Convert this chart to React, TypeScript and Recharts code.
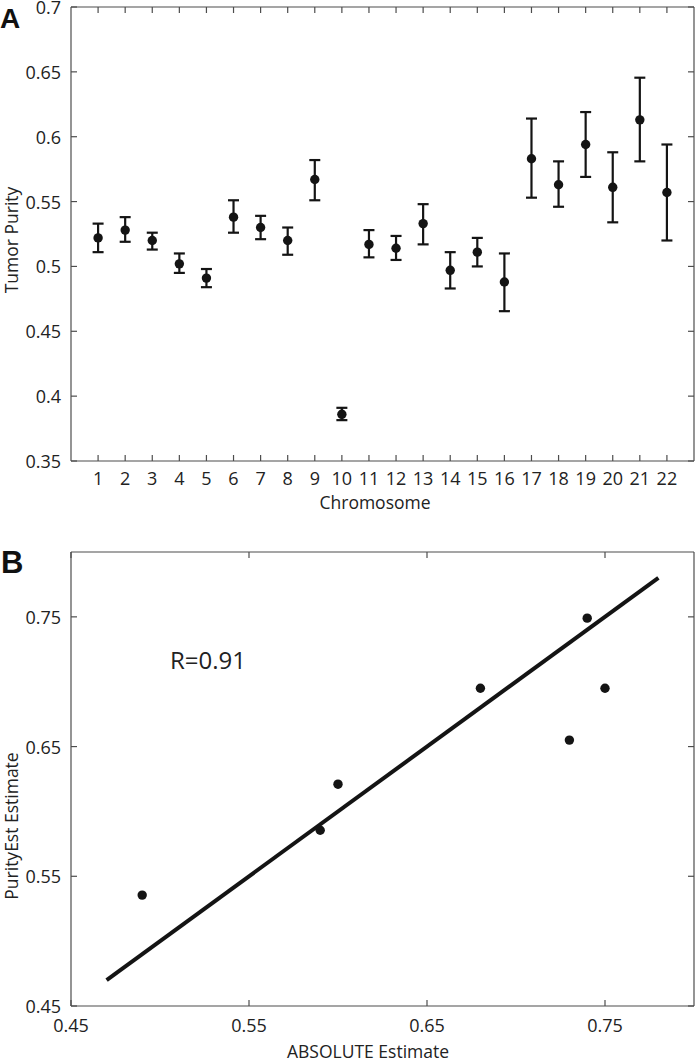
import React from 'react';
import { ScatterChart, Scatter, XAxis, YAxis, ErrorBar, ReferenceDot } from 'recharts';

// Panel A: tumor purity per chromosome (mean with error range)
const chromosomes = [1, 2, 3, 4, 5, 6, 7, 8, 9, 10, 11, 12, 13, 14, 15, 16, 17, 18, 19, 20, 21, 22];
const purityMean = [0.522, 0.528, 0.52, 0.502, 0.491, 0.538, 0.53, 0.52, 0.567, 0.386, 0.517, 0.514, 0.533, 0.497, 0.511, 0.488, 0.583, 0.563, 0.594, 0.561, 0.613, 0.557];
const purityHigh = [0.533, 0.538, 0.526, 0.51, 0.498, 0.551, 0.539, 0.53, 0.582, 0.391, 0.528, 0.5235, 0.548, 0.511, 0.522, 0.51, 0.614, 0.581, 0.619, 0.588, 0.6455, 0.594];
const purityLow = [0.511, 0.519, 0.513, 0.495, 0.484, 0.526, 0.521, 0.509, 0.551, 0.3815, 0.507, 0.505, 0.517, 0.483, 0.5, 0.4655, 0.553, 0.546, 0.569, 0.534, 0.581, 0.52];
const purityTicks = [0.35, 0.4, 0.45, 0.5, 0.55, 0.6, 0.65, 0.7];

// Panel B: PurityEst vs ABSOLUTE
const absoluteEst = [0.49, 0.59, 0.6, 0.68, 0.74, 0.75, 0.73];
const purityEst = [0.5355, 0.5855, 0.621, 0.695, 0.749, 0.695, 0.655];
const fitX = [0.47, 0.78];
const fitY = [0.47, 0.78];
const estTicks = [0.45, 0.55, 0.65, 0.75];
const rText = 'R=0.91';
const rPos = { x: 0.527, y: 0.716 };

const chromData = chromosomes.map((c, i) => ({
  chr: c,
  purity: purityMean[i],
  err: [purityMean[i] - purityLow[i], purityHigh[i] - purityMean[i]],
}));
const estData = absoluteEst.map((a, i) => ({ abs: a, est: purityEst[i] }));
const fitData = fitX.map((x, i) => ({ abs: x, est: fitY[i] }));

const AXIS = '#4d4d4d';
const INK = '#141414';
const TEXT = '#222';
const FONT = '"Open Sans", "Noto Sans", sans-serif';
const TICK = 6;

const labelStyle = { fontFamily: FONT, fontSize: 18, fill: TEXT };

const BottomTick = ({ x, y, payload, gap }: any) => (
  <g>
    <line x1={x} y1={y} x2={x} y2={y - TICK} stroke={AXIS} strokeWidth={1.2} />
    <text x={x} y={y + gap} textAnchor="middle" dominantBaseline="central" {...labelStyle}>
      {payload.value}
    </text>
  </g>
);

const LeftTick = ({ x, y, payload }: any) => (
  <g>
    <line x1={x} y1={y} x2={x + TICK} y2={y} stroke={AXIS} strokeWidth={1.2} />
    <text x={x - 10} y={y} textAnchor="end" dominantBaseline="central" {...labelStyle}>
      {payload.value}
    </text>
  </g>
);

const TopTick = ({ x, y }: any) => (
  <line x1={x} y1={y} x2={x} y2={y + TICK} stroke={AXIS} strokeWidth={1.2} />
);

const RightTick = ({ x, y }: any) => (
  <line x1={x} y1={y} x2={x - TICK} y2={y} stroke={AXIS} strokeWidth={1.2} />
);

const Dot = (p: any) => <circle cx={p.cx} cy={p.cy} r={4.7} fill={INK} />;
const NoDot = () => <g />;

const axisLine = { stroke: AXIS, strokeWidth: 1.2 };

// frame axes (top / right) are mirrored so they take no room
const frameX = {
  xAxisId: 'top',
  orientation: 'top' as const,
  mirror: true,
  type: 'number' as const,
  height: 1,
  tickSize: 0,
  tickMargin: 0,
  axisLine,
  tickLine: false,
  tick: <TopTick />,
  interval: 0,
};
const frameY = {
  yAxisId: 'right',
  orientation: 'right' as const,
  mirror: true,
  type: 'number' as const,
  width: 1,
  tickSize: 0,
  tickMargin: 0,
  axisLine,
  tickLine: false,
  tick: <RightTick />,
  interval: 0,
};

const PanelA = () => (
  <ScatterChart width={696} height={520} margin={{ top: 7, right: 2, bottom: 0, left: 0 }}>
    <XAxis
      dataKey="chr"
      type="number"
      domain={[0, 23]}
      ticks={chromosomes}
      height={59}
      tickSize={0}
      tickMargin={0}
      axisLine={axisLine}
      tickLine={false}
      tick={<BottomTick gap={17} />}
      interval={0}
    />
    <XAxis {...frameX} dataKey="chr" domain={[0, 23]} ticks={chromosomes} />
    <YAxis
      dataKey="purity"
      type="number"
      domain={[0.35, 0.7]}
      ticks={purityTicks}
      width={71}
      tickSize={0}
      tickMargin={0}
      axisLine={axisLine}
      tickLine={false}
      tick={<LeftTick />}
      interval={0}
    />
    <YAxis {...frameY} dataKey="purity" domain={[0.35, 0.7]} ticks={purityTicks} />
    {/* hidden series so the frame axes get a scale */}
    <Scatter data={chromData} xAxisId="top" yAxisId="right" shape={NoDot} isAnimationActive={false} />
    <Scatter data={chromData} fill={INK} shape={Dot} isAnimationActive={false}>
      <ErrorBar dataKey="err" direction="y" width={5.5} stroke={INK} strokeWidth={2.2} isAnimationActive={false} />
    </Scatter>
  </ScatterChart>
);

const PanelB = () => (
  <ScatterChart width={696} height={542} margin={{ top: 32, right: 2, bottom: 0, left: 0 }}>
    <XAxis
      dataKey="abs"
      type="number"
      domain={[0.45, 0.8]}
      ticks={estTicks}
      height={56}
      tickSize={0}
      tickMargin={0}
      axisLine={axisLine}
      tickLine={false}
      tick={<BottomTick gap={19} />}
      interval={0}
    />
    <XAxis {...frameX} dataKey="abs" domain={[0.45, 0.8]} ticks={estTicks} />
    <YAxis
      dataKey="est"
      type="number"
      domain={[0.45, 0.8]}
      ticks={estTicks}
      width={71}
      tickSize={0}
      tickMargin={0}
      axisLine={axisLine}
      tickLine={false}
      tick={<LeftTick />}
      interval={0}
    />
    <YAxis {...frameY} dataKey="est" domain={[0.45, 0.8]} ticks={estTicks} />
    <Scatter data={estData} xAxisId="top" yAxisId="right" shape={NoDot} isAnimationActive={false} />
    <Scatter
      data={fitData}
      line={{ stroke: INK, strokeWidth: 4 }}
      shape={NoDot}
      isAnimationActive={false}
    />
    <Scatter data={estData} fill={INK} shape={Dot} isAnimationActive={false} />
    <ReferenceDot
      x={rPos.x}
      y={rPos.y}
      r={0}
      stroke="none"
      fill="none"
      label={{ value: rText, position: 'center', fontSize: 24, fill: TEXT, fontFamily: FONT }}
    />
  </ScatterChart>
);

const titleStyle = { fontFamily: FONT, fontSize: 17.5, fill: TEXT };
const letterStyle = { fontFamily: '"Liberation Sans", Arial, sans-serif', fontWeight: 700, fill: '#111' };

export default function App() {
  return (
    <div style={{ position: 'absolute', left: 0, top: 0, width: 696, height: 1062, background: '#fff', overflow: 'hidden' }}>
      <div style={{ position: 'absolute', left: 0, top: 0 }}>
        <PanelA />
      </div>
      <div style={{ position: 'absolute', left: 0, top: 520 }}>
        <PanelB />
      </div>
      <svg width={696} height={1062} style={{ position: 'absolute', left: 0, top: 0, pointerEvents: 'none' }}>
        <text x={0} y={28} fontSize={28} {...letterStyle}>A</text>
        <text x={1} y={573} fontSize={31} {...letterStyle}>B</text>
        <text x={375} y={502} textAnchor="middle" dominantBaseline="central" {...titleStyle}>Chromosome</text>
        <text x={11} y={240} transform="rotate(-90 11 240)" textAnchor="middle" dominantBaseline="central" {...titleStyle}>
          Tumor Purity
        </text>
        <text x={368} y={1051} textAnchor="middle" dominantBaseline="central" {...titleStyle}>ABSOLUTE Estimate</text>
        <text x={11} y={826} transform="rotate(-90 11 826)" textAnchor="middle" dominantBaseline="central" {...titleStyle}>
          PurityEst Estimate
        </text>
      </svg>
    </div>
  );
}
